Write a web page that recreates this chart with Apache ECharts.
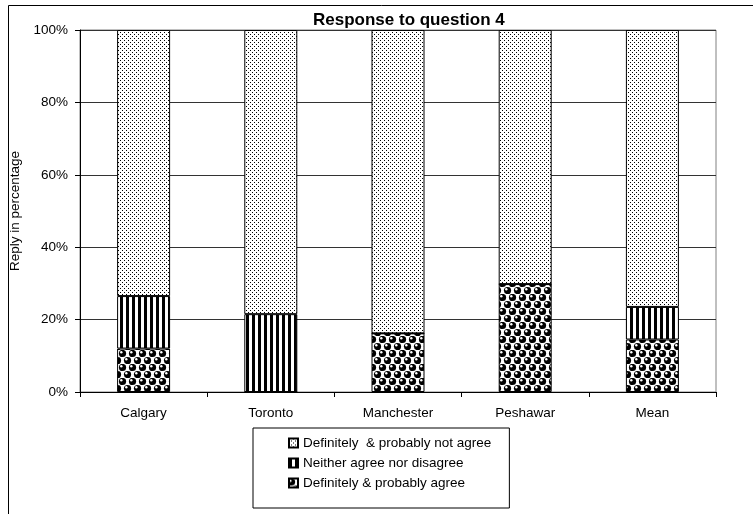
<!DOCTYPE html>
<html>
<head>
<meta charset="utf-8">
<script src="https://cdn.jsdelivr.net/npm/echarts@6/dist/echarts.min.js"></script>
<style>
  html, body { margin: 0; padding: 0; background: #fff; }
  #chart { width: 753px; height: 514px; }
</style>
</head>
<body>
<div id="chart"></div>
<script>
// Survey replies per city, in percent of respondents
const categories = ['Calgary', 'Toronto', 'Manchester', 'Peshawar', 'Mean'];
const agree      = [12.0, 0,    16.2, 29.8, 14.5];
const neither    = [14.5, 21.5, 0,    0,    9.0];
const notAgree   = [73.5, 78.5, 83.8, 70.2, 76.5];
const yTicks     = [0, 20, 40, 60, 80, 100];

const seriesNames = [
  'Definitely & probably agree',
  'Neither agree nor disagree',
  'Definitely  & probably not agree'
];

const FONT = 'Liberation Sans, Arial, sans-serif';
const FS = 13.5;

// Monochrome fill patterns
function makeTile(w, h, draw) {
  const c = document.createElement('canvas');
  c.width = w; c.height = h;
  const ctx = c.getContext('2d');
  ctx.fillStyle = '#fff';
  ctx.fillRect(0, 0, w, h);
  draw(ctx);
  return c;
}
const dotTile = makeTile(4, 4, ctx => {
  ctx.fillStyle = '#000';
  ctx.fillRect(0, 0, 1, 1);
  ctx.fillRect(2, 2, 1, 1);
});
const stripeTile = makeTile(6, 6, ctx => {
  ctx.fillStyle = '#000';
  ctx.fillRect(0, 0, 3, 6);
});
const sphereTile = makeTile(10, 14, ctx => {
  const ball = (cx, cy) => {
    ctx.fillStyle = '#000';
    ctx.beginPath(); ctx.arc(cx, cy, 3.6, 0, Math.PI * 2); ctx.fill();
    ctx.fillStyle = '#fff';
    ctx.beginPath(); ctx.arc(cx - 1.2, cy - 1.3, 1.2, 0, Math.PI * 2); ctx.fill();
  };
  // wrap neighbours so the tile repeats seamlessly
  for (const dx of [-10, 0, 10]) {
    for (const dy of [-14, 0, 14]) {
      ball(2.5 + dx, 3.5 + dy);
      ball(7.5 + dx, 10.5 + dy);
    }
  }
});
const pat = tile => ({ image: tile, repeat: 'repeat' });

const chart = echarts.init(document.getElementById('chart'), null, { renderer: 'canvas' });

const barStyle = fill => ({ color: pat(fill), borderColor: '#000', borderWidth: 1 });

chart.setOption({
  animation: false,
  backgroundColor: '#fff',
  textStyle: { fontFamily: FONT, color: '#000' },
  title: {
    text: 'Response to question 4',
    left: 313,
    top: 12,
    padding: 0,
    textStyle: { fontSize: 17, fontWeight: 'bold', color: '#000', fontFamily: FONT }
  },
  graphic: [{
    type: 'rect',
    silent: true,
    shape: { x: 8.5, y: 5.5, width: 800, height: 600 },
    style: { fill: 'none', stroke: '#000', lineWidth: 1 }
  }],
  legend: {
    orient: 'vertical',
    left: 253,
    top: 428,
    data: seriesNames.slice().reverse(),
    borderColor: '#000',
    borderWidth: 1,
    padding: [8, 18, 18, 35],
    itemGap: 6,
    itemWidth: 9,
    itemHeight: 9,
    icon: 'rect',
    textStyle: { fontSize: FS, color: '#000', fontFamily: FONT }
  },
  grid: {
    left: 80, right: 37, top: 30, bottom: 122,
    show: true, borderColor: '#808080', borderWidth: 1, backgroundColor: 'transparent'
  },
  xAxis: {
    type: 'category',
    data: categories,
    boundaryGap: true,
    axisLine: { lineStyle: { color: '#000' } },
    axisTick: { show: true, alignWithLabel: false, length: 5, lineStyle: { color: '#000' } },
    axisLabel: { margin: 14, fontSize: FS, color: '#000' }
  },
  yAxis: {
    type: 'value',
    min: yTicks[0],
    max: yTicks[yTicks.length - 1],
    interval: yTicks[1] - yTicks[0],
    name: 'Reply in percentage',
    nameLocation: 'middle',
    nameGap: 45,
    nameTextStyle: { fontSize: FS, color: '#000' },
    axisLine: { show: true, lineStyle: { color: '#000' } },
    axisTick: { show: true, length: 5, lineStyle: { color: '#000' } },
    axisLabel: { margin: 12, fontSize: FS, color: '#000', formatter: v => v + '%' },
    splitLine: { show: true, lineStyle: { color: '#333', width: 1 } }
  },
  series: [
    { name: seriesNames[0], type: 'bar', stack: 'reply', barWidth: 53, data: agree,    itemStyle: barStyle(sphereTile) },
    { name: seriesNames[1], type: 'bar', stack: 'reply', barWidth: 53, data: neither,  itemStyle: barStyle(stripeTile) },
    { name: seriesNames[2], type: 'bar', stack: 'reply', barWidth: 53, data: notAgree, itemStyle: barStyle(dotTile) }
  ]
});
</script>
</body>
</html>
